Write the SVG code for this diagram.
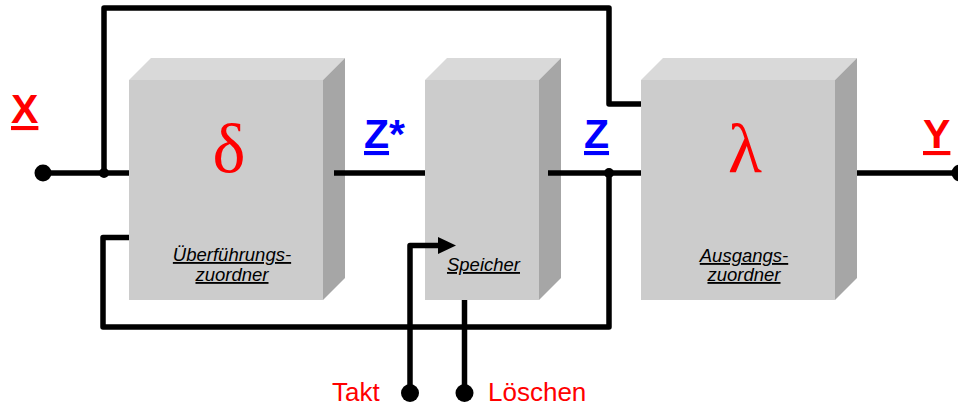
<svg xmlns="http://www.w3.org/2000/svg" width="958" height="407" viewBox="0 0 958 407">
<defs>
<style>
.front{fill:#cccccc}
.top{fill:#d9d9d9}
.side{fill:#a6a6a6}
.wire{fill:none;stroke:#000;stroke-width:5.5;stroke-linejoin:round}
.dot{fill:#000}
.sym{font-family:"Liberation Sans",Arial,sans-serif;font-weight:bold;font-size:41px}
.greek{font-family:"Liberation Serif","Times New Roman",serif;font-size:70px;fill:#ff0000;text-anchor:middle}
.lab{font-family:"Liberation Sans",Arial,sans-serif;font-style:italic;font-size:18.5px;fill:#000;text-anchor:middle;text-decoration:underline}
.sig{font-family:"Liberation Sans",Arial,sans-serif;font-size:26px;fill:#ff0000}
</style>
<marker id="arr" markerUnits="userSpaceOnUse" markerWidth="20" markerHeight="20" refX="0" refY="8.5" orient="auto">
<polygon points="0,0 18,8.5 0,17" fill="#000"/>
</marker>
</defs>

<g id="node-delta">
<polygon class="top" points="129,80 151,58 345,58 323,80"/>
<polygon class="side" points="323,80 345,58 345,278 323,300"/>
<rect class="front" x="129" y="80" width="194" height="220"/>
<text class="greek" x="229" y="172">δ</text>
<text class="lab" x="232" y="261">Überführungs-</text>
<text class="lab" x="232" y="281">zuordner</text>
</g>

<g id="node-speicher">
<polygon class="top" points="425,80 447,58 561,58 539,80"/>
<polygon class="side" points="539,80 561,58 561,278 539,300"/>
<rect class="front" x="425" y="80" width="114" height="220"/>
<text class="lab" x="483.5" y="271">Speicher</text>
</g>

<g id="node-lambda">
<polygon class="top" points="641,80 663,58 857,58 835,80"/>
<polygon class="side" points="835,80 857,58 857,278 835,300"/>
<rect class="front" x="641" y="80" width="194" height="220"/>
<text class="greek" x="745" y="172">λ</text>
<text class="lab" x="744" y="262">Ausgangs-</text>
<text class="lab" x="744" y="281">zuordner</text>
</g>

<g id="connectors">
<path class="wire" d="M43,173 H129"/>
<path class="wire" d="M104,173 V8 H609 V104 H641"/>
<path class="wire" d="M334,173 H425"/>
<path class="wire" d="M548,173 H641"/>
<path class="wire" d="M609,173 V327 H103 V237.5 H129"/>
<path class="wire" d="M857,173 H958"/>
<path class="wire" d="M410,393 V245.5 H438" marker-end="url(#arr)"/>
<path class="wire" d="M464.5,393 V300"/>
<circle class="dot" cx="43" cy="173" r="8.5"/>
<circle class="dot" cx="104" cy="173" r="5"/>
<circle class="dot" cx="609" cy="173" r="5"/>
<circle class="dot" cx="960" cy="173" r="8.5"/>
<circle class="dot" cx="410" cy="393" r="9"/>
<circle class="dot" cx="464.5" cy="393" r="9"/>
</g>

<g id="labels">
<text class="sym" x="11" y="123" fill="#ff0000" text-decoration="underline">X</text>
<text class="sym" x="364" y="148" fill="#0000ff"><tspan text-decoration="underline">Z</tspan>*</text>
<text class="sym" x="584" y="148" fill="#0000ff" text-decoration="underline">Z</text>
<text class="sym" x="923" y="148" fill="#ff0000" text-decoration="underline">Y</text>
<text class="sig" x="332" y="401">Takt</text>
<text class="sig" x="488" y="401">Löschen</text>
</g>
</svg>
